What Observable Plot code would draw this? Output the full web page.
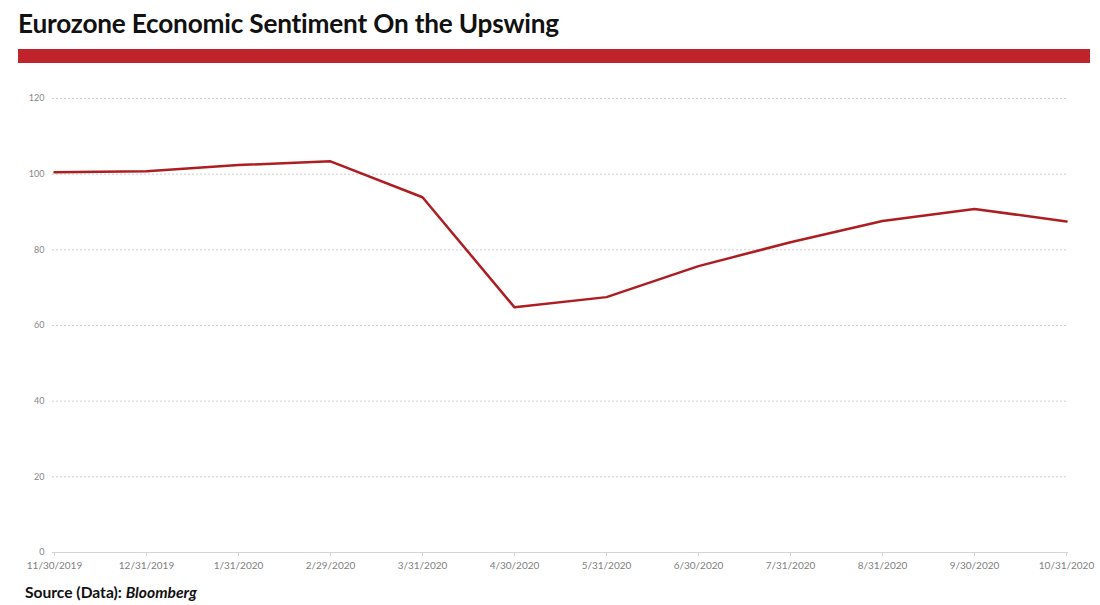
<!DOCTYPE html>
<html>
<head>
<meta charset="utf-8">
<script src="https://cdn.jsdelivr.net/npm/d3@7"></script>
<script src="https://cdn.jsdelivr.net/npm/@observablehq/plot@0.6"></script>
<style>
  html, body { margin: 0; padding: 0; background: #fff; }
  #wrap { position: relative; width: 1100px; height: 605px; overflow: hidden; font-family: Lato, "Open Sans", sans-serif; }
  #title { position: absolute; left: 18px; top: 7px; font-size: 26.2px; font-weight: 700; color: #111; letter-spacing: -0.2px; }
  #bar { position: absolute; left: 18px; top: 49px; width: 1072px; height: 14px; background: #c0232b; }
  #chart { position: absolute; left: 0; top: 80px; }
  #source { position: absolute; left: 25px; top: 583px; font-size: 15.6px; font-weight: 700; color: #111; }
</style>
</head>
<body>
<div id="wrap">
  <div id="title">Eurozone Economic Sentiment On the Upswing</div>
  <div id="bar"></div>
  <div id="chart"></div>
  <div id="source">Source (Data): <i>Bloomberg</i></div>
</div>
<script>
const dates = ["11/30/2019","12/31/2019","1/31/2020","2/29/2020","3/31/2020","4/30/2020","5/31/2020","6/30/2020","7/31/2020","8/31/2020","9/30/2020","10/31/2020"];
const sentiment = [100.5, 100.8, 102.4, 103.4, 93.9, 64.8, 67.5, 75.7, 82.0, 87.6, 90.8, 87.5];
const yTicks = [0, 20, 40, 60, 80, 100, 120];

const data = dates.map((d, i) => ({date: d, value: sentiment[i]}));

const chart = Plot.plot({
  width: 1100,
  height: 500,
  marginTop: 18,
  marginBottom: 28,
  marginLeft: 52,
  marginRight: 32,
  style: { fontFamily: "Lato, 'Open Sans', sans-serif", background: "transparent" },
  x: { type: "point", domain: dates, padding: 0, label: null },
  y: { domain: [0, 120], label: null },
  marks: [
    Plot.ruleY(yTicks.filter(t => t > 0), { stroke: "#cfcfcf", strokeDasharray: "2,2", strokeWidth: 1 }),
    Plot.ruleY([0], { stroke: "#d4d4d4", strokeWidth: 1 }),
    Plot.axisY({ ticks: yTicks, tickSize: 0, tickPadding: 8, fontSize: 9, fill: "#888", label: null }),
    Plot.axisX({ tickSize: 4, stroke: "#d4d4d4", tickPadding: 5, fontSize: 10, fill: "#808080", label: null }),
    Plot.line(data, { x: "date", y: "value", stroke: "#ad1d22", strokeWidth: 2.5 })
  ]
});
document.getElementById("chart").appendChild(chart);
</script>
</body>
</html>
